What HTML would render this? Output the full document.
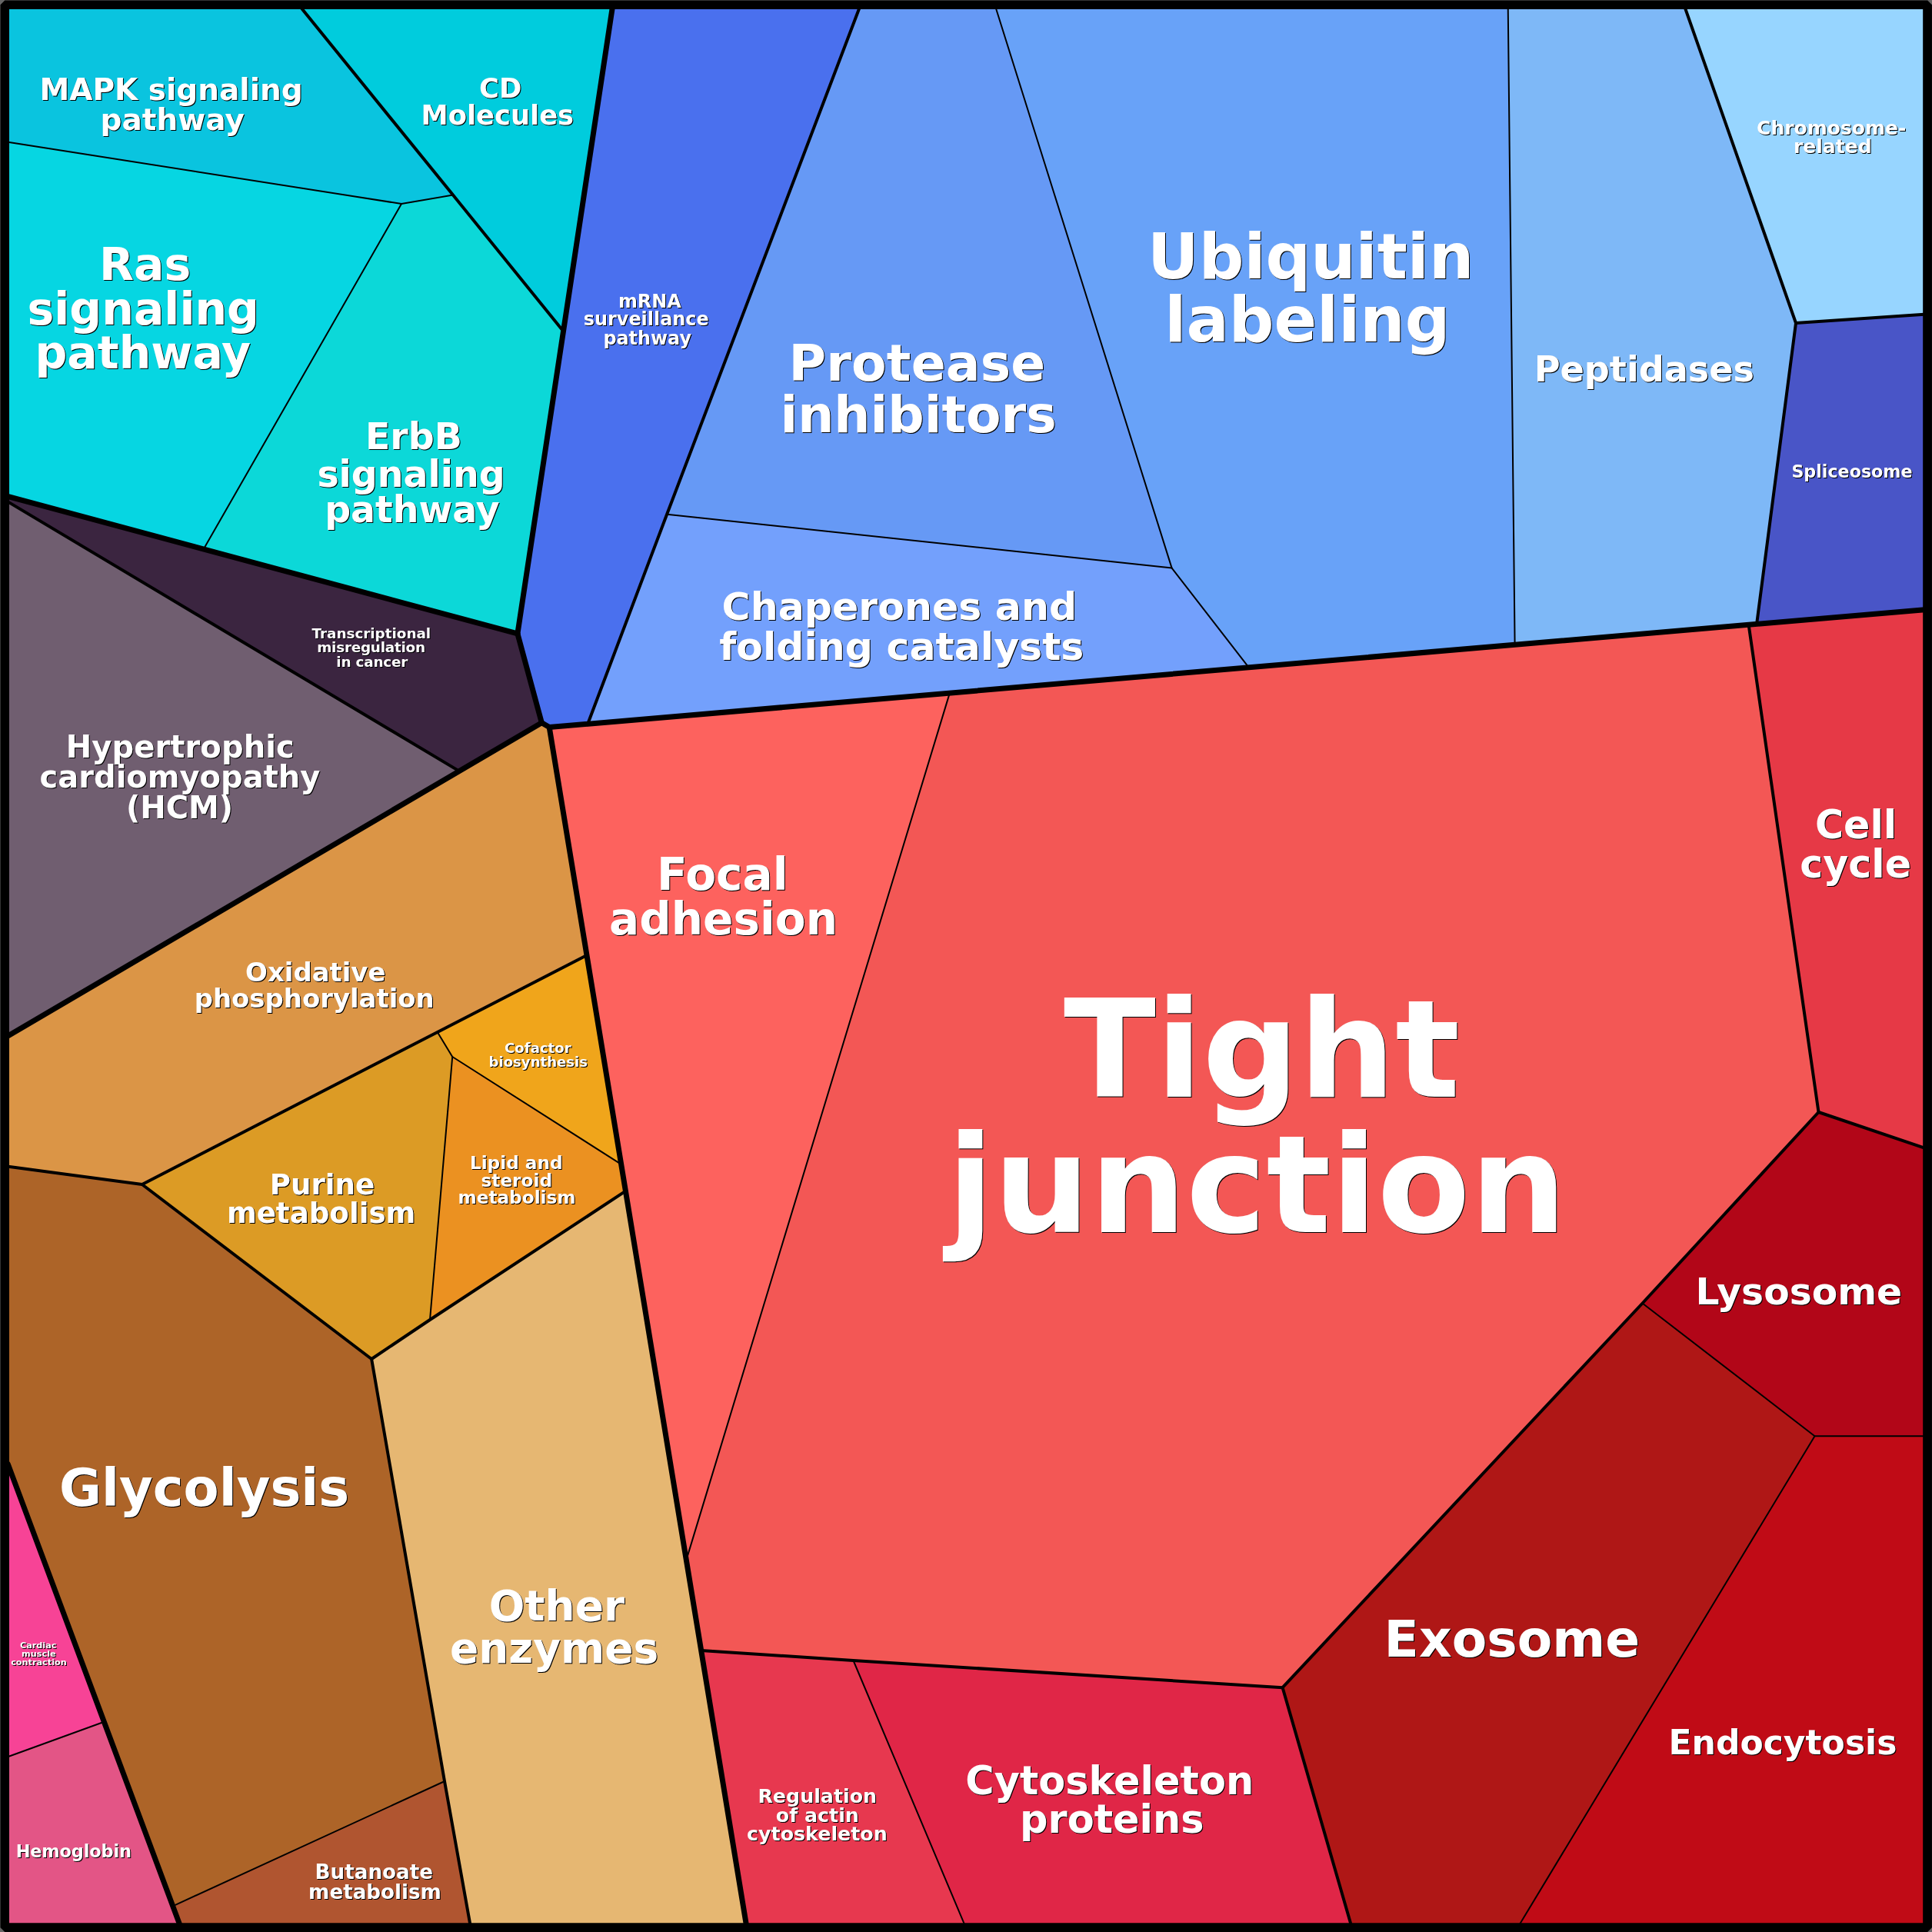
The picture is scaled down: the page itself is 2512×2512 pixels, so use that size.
<!DOCTYPE html>
<html><head><meta charset="utf-8"><title>Proteomap</title>
<style>
html,body{margin:0;padding:0;background:#666}
svg{display:block}
.t{font-family:"DejaVu Sans","Liberation Sans",sans-serif;font-weight:bold}
.s{fill:#000}
.w{fill:#fff;filter:drop-shadow(1.1px 1.1px 0 #000)}
.e{fill:none;stroke:#000;stroke-linecap:round;stroke-linejoin:round}
</style></head>
<body>
<svg width="2512" height="2512" viewBox="0 0 2512 2512">
<rect x="6" y="6" width="2500" height="2500" fill="#000"/>
<g>
<polygon fill="#0AC4DF" points="12,12 393,12 589,253.6 522,265 12,185"/>
<polygon fill="#00CCDD" points="393,12 796,12 732.5,430.7 589,253.6"/>
<polygon fill="#06D6E2" points="12,185 522,265 264.7,714 12,646"/>
<polygon fill="#0CD8D8" points="522,265 589,253.6 732.5,430.7 672.9,823.9 264.7,714"/>
<polygon fill="#4A70EE" points="796,12 1116.8,12 867.1,668.7 764.2,941.3 714.2,945.6 704.3,939.7 672.9,823.9 732.5,430.7"/>
<polygon fill="#6699F5" points="1116.8,12 1295.3,12 1523.6,738.6 867.1,668.7"/>
<polygon fill="#73A0FC" points="867.1,668.7 1523.6,738.6 1623.7,867.8 764.2,941.3"/>
<polygon fill="#68A2F8" points="1295.3,12 1960.8,12 1969.6,838.2 1623.7,867.8 1523.6,738.6"/>
<polygon fill="#7EB8F7" points="1960.8,12 2191.6,12 2335,420 2284.1,811.3 1969.6,838.2"/>
<polygon fill="#97D5FF" points="2191.6,12 2500.4,12 2500.4,408.8 2335,420"/>
<polygon fill="#4955C7" points="2335,420 2500.4,408.8 2500.4,792.8 2284.1,811.3"/>
<polygon fill="#3B2540" points="12,646 264.7,714 672.9,823.9 704.3,939.7 597.1,1002.6 12,653.5"/>
<polygon fill="#705E70" points="12,653.5 597.1,1002.6 12,1346"/>
<polygon fill="#DB9546" points="12,1346 597.1,1002.6 704.3,939.7 714.2,945.6 763,1242 568.8,1342 184.8,1540 12,1517"/>
<polygon fill="#F0A51B" points="763,1242 807.7,1513.9 588.2,1374 568.8,1342"/>
<polygon fill="#DC9B25" points="184.8,1540 568.8,1342 588.2,1374 559,1716 483.1,1767"/>
<polygon fill="#EB9121" points="588.2,1374 807.7,1513.9 813.4,1548.7 559,1716"/>
<polygon fill="#AD6428" points="12,1517 184.8,1540 483.1,1767 578,2316 224.7,2478.3 12,1908.4"/>
<polygon fill="#E6B772" points="483.1,1767 559,1716 813.4,1548.7 892.3,2028.4 911.7,2145.9 970,2500.4 611,2500.4 578,2316"/>
<polygon fill="#B05530" points="224.7,2478.3 578,2316 611,2500.4 233,2500.4"/>
<polygon fill="#F74396" points="12,1908.4 135.3,2238.7 12,2283.5"/>
<polygon fill="#E35586" points="12,2283.5 135.3,2238.7 224.7,2478.3 233,2500.4 12,2500.4"/>
<polygon fill="#FD625E" points="714.2,945.6 764.2,941.3 1234.8,901.1 892.3,2028.4 813.4,1548.7 807.7,1513.9 763,1242"/>
<polygon fill="#F35755" points="1234.8,901.1 1623.7,867.8 1969.6,838.2 2284.1,811.3 2273.6,812.2 2364.5,1446 2135.5,1694.5 1667.6,2194.2 1109.5,2159 911.7,2145.9 892.3,2028.4"/>
<polygon fill="#E63946" points="2273.6,812.2 2500.4,792.8 2500.4,1492 2364.5,1446"/>
<polygon fill="#B20618" points="2364.5,1446 2500.4,1492 2500.4,1867.2 2359.5,1867.2 2135.5,1694.5"/>
<polygon fill="#AF1716" points="2135.5,1694.5 2359.5,1867.2 1976.8,2500.4 1756,2500.4 1667.6,2194.2"/>
<polygon fill="#C00B16" points="2359.5,1867.2 2500.4,1867.2 2500.4,2500.4 1976.8,2500.4"/>
<polygon fill="#E7384F" points="911.7,2145.9 1109.5,2159 1253.4,2500.4 970,2500.4"/>
<polygon fill="#E02647" points="1109.5,2159 1667.6,2194.2 1756,2500.4 1253.4,2500.4"/>
</g>
<g class="e" stroke-width="2.0">
<polyline points="7.1,184.2 522,265 589,253.6"/>
<polyline points="522,265 264.7,714"/>
<polyline points="1293.8,7.2 1523.6,738.6 1623.7,867.8"/>
<polyline points="867.1,668.7 1523.6,738.6"/>
<polyline points="1960.7,7 1969.6,838.2"/>
<polyline points="568.8,1342 588.2,1374 559,1716"/>
<polyline points="588.2,1374 807.7,1513.9"/>
<polyline points="578,2316 224.7,2478.3"/>
<polyline points="7.3,2285.2 135.3,2238.7"/>
<polyline points="1234.8,901.1 892.3,2028.4"/>
<polyline points="1109.5,2159 1255.3,2505.1"/>
<polyline points="2135.5,1694.5 2359.5,1867.2 1974.2,2504.7"/>
<polyline points="2359.5,1867.2 2505.4,1867.2"/>
</g>
<g class="e" stroke-width="4">
<polyline points="389.8,8.1 589,253.6 732.5,430.7"/>
<polyline points="1118.6,7.3 867.1,668.7 764.2,941.3"/>
<polyline points="2189.9,7.3 2335,420"/>
<polyline points="2335,420 2284.1,811.3"/>
<polyline points="2335,420 2505.4,408.5"/>
<polyline points="7.7,650.9 597.1,1002.6"/>
<polyline points="7,1516.3 184.8,1540 568.8,1342 763,1242"/>
<polyline points="184.8,1540 483.1,1767 578,2316 611.9,2505.4"/>
<polyline points="483.1,1767 559,1716 813.4,1548.7"/>
<polyline points="2273.6,812.2 2364.5,1446 2135.5,1694.5 1667.6,2194.2 1109.5,2159 911.7,2145.9"/>
<polyline points="2364.5,1446 2505.2,1493.6"/>
<polyline points="1667.6,2194.2 1757.4,2505.3"/>
</g>
<g class="e" stroke-width="7.0">
<polyline points="796.7,7.1 672.9,823.9"/>
<polyline points="7.2,644.7 672.9,823.9"/>
<polyline points="672.9,823.9 704.3,939.7"/>
<polyline points="704.3,939.7 7.7,1348.5"/>
<polyline points="704.3,939.7 714.2,945.6"/>
<polyline points="714.2,945.6 970.8,2505.4"/>
<polyline points="714.2,945.6 2505.4,792.4"/>
<polyline points="10.3,1903.7 234.7,2505.1"/>
</g>
<path d="M6.25,6.25H2506.2V2506.2H6.25Z" fill="none" stroke="#000" stroke-width="11.5" stroke-linejoin="bevel"/>
<g class="t w">
<text x="51.4" y="129.7" font-size="39">MAPK signaling</text>
<text x="130.6" y="169.4" font-size="39">pathway</text>
<text x="623.1" y="127.2" font-size="35.3">CD</text>
<text x="547.6" y="162.2" font-size="35.3">Molecules</text>
<text x="129" y="363.8" font-size="58.5">Ras</text>
<text x="35.5" y="422.1" font-size="58.5">signaling</text>
<text x="45.4" y="478.6" font-size="58.5">pathway</text>
<text x="475" y="584.3" font-size="47.4">ErbB</text>
<text x="412.4" y="632.6" font-size="47.4">signaling</text>
<text x="422.2" y="679" font-size="47.4">pathway</text>
<text x="803.9" y="399.6" font-size="23.9">mRNA</text>
<text x="758.8" y="423.4" font-size="23.9">surveillance</text>
<text x="784.4" y="447.5" font-size="23.9">pathway</text>
<text x="405.5" y="829.5" font-size="18.35">Transcriptional</text>
<text x="412.2" y="847.7" font-size="18.35" letter-spacing="-0.210">misregulation</text>
<text x="437.3" y="866.6" font-size="18.35" letter-spacing="-0.176">in cancer</text>
<text x="85.7" y="984.8" font-size="40" letter-spacing="0.109">Hypertrophic</text>
<text x="51.6" y="1023.8" font-size="40">cardiomyopathy</text>
<text x="163.9" y="1063.7" font-size="40">(HCM)</text>
<text x="319.1" y="1276.2" font-size="33.9">Oxidative</text>
<text x="252.7" y="1310" font-size="33.9">phosphorylation</text>
<text x="656.1" y="1368.5" font-size="18.1">Cofactor</text>
<text x="635.5" y="1386.6" font-size="18.1">biosynthesis</text>
<text x="610.9" y="1519.9" font-size="23.2">Lipid and</text>
<text x="625.5" y="1542.6" font-size="23.2">steroid</text>
<text x="595.5" y="1565.2" font-size="23.2">metabolism</text>
<text x="350.8" y="1552.7" font-size="37.2">Purine</text>
<text x="294.9" y="1589.7" font-size="37.2">metabolism</text>
<text x="77" y="1958.3" font-size="67.1">Glycolysis</text>
<text x="635.7" y="2107.1" font-size="54.9">Other</text>
<text x="585" y="2162.2" font-size="54.9">enzymes</text>
<text x="25.9" y="2142.9" font-size="11.25">Cardiac</text>
<text x="28.1" y="2154" font-size="11.25">muscle</text>
<text x="14.2" y="2165.2" font-size="11.25">contraction</text>
<text x="20.7" y="2414.6" font-size="22.4" letter-spacing="-0.124">Hemoglobin</text>
<text x="409.6" y="2442.5" font-size="26.2">Butanoate</text>
<text x="401.1" y="2468.6" font-size="26.2">metabolism</text>
<text x="1383.1" y="1426.2" font-size="175.8">Tight</text>
<text x="1231.8" y="1602" font-size="175.8">junction</text>
<text x="853.9" y="1156.9" font-size="58.05">Focal</text>
<text x="792" y="1215.2" font-size="58.05">adhesion</text>
<text x="2359.9" y="1090.2" font-size="50.7">Cell</text>
<text x="2340.2" y="1141.3" font-size="50.7">cycle</text>
<text x="2204.5" y="1696.4" font-size="48.8">Lysosome</text>
<text x="1799.6" y="2153.7" font-size="66.3">Exosome</text>
<text x="2169.5" y="2280.5" font-size="44.05">Endocytosis</text>
<text x="985.4" y="2344.3" font-size="25.3">Regulation</text>
<text x="1008.8" y="2368.6" font-size="25.3">of actin</text>
<text x="971.1" y="2393.2" font-size="25.3">cytoskeleton</text>
<text x="1255.3" y="2332.5" font-size="50.95">Cytoskeleton</text>
<text x="1326.1" y="2382.6" font-size="50.95">proteins</text>
<text x="1025.4" y="494.9" font-size="66.25" letter-spacing="0.209">Protease</text>
<text x="1014.5" y="561.8" font-size="66.25">inhibitors</text>
<text x="938.6" y="806.4" font-size="50.56">Chaperones and</text>
<text x="935.2" y="857.6" font-size="50.56">folding catalysts</text>
<text x="1492.1" y="362.1" font-size="82">Ubiquitin</text>
<text x="1514.3" y="444.1" font-size="82">labeling</text>
<text x="1994.7" y="495.9" font-size="46.15">Peptidases</text>
<text x="2284.1" y="175.1" font-size="25">Chromosome-</text>
<text x="2332" y="199.4" font-size="25">related</text>
<text x="2329.4" y="620.6" font-size="22.2">Spliceosome</text>
</g>
</svg>
</body></html>
